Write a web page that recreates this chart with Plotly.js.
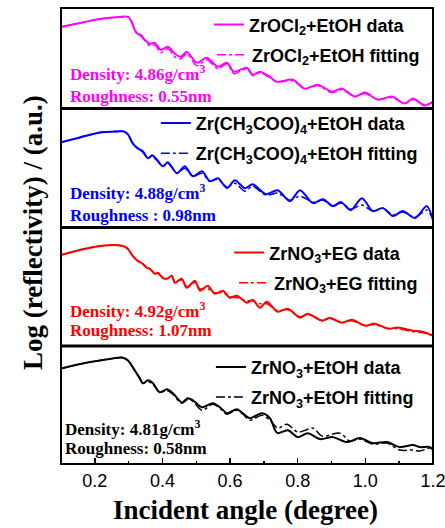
<!DOCTYPE html>
<html><head><meta charset="utf-8">
<script src="https://cdn.plot.ly/plotly-3.0.1.min.js"></script>
<style>html,body{margin:0;padding:0;background:#fff}#chart{width:445px;height:528px}</style>
</head><body><div id="chart"></div>
<script>
// Panel 1: ZrOCl2 + EtOH (magenta)
const x1 = [0.1,0.156,0.215,0.274,0.298,0.309,0.318,0.327,0.336,0.348,0.363,0.378,0.395,0.416,0.437,0.454,0.472,0.502,0.531,0.564,0.591,0.611,0.650,0.667,0.688,0.713,0.738,0.786,0.821,0.860,0.901,0.931,0.969,0.999,1.037,1.079,1.117,1.141,1.176,1.2];
const data1 = [82,86,90,92,92,87,79,75,74,69,65,66,59,62,55,52,57,46,51,42,46,37,41,34,37,33,27,29,20,24,17,20,12,16,9,12,5,10,3,7];
const fit1 = [82,86,90,92,92,87,79,74,73,68,63,64,56,60,52,50,55,43,49,40,45,35,40,33,36,32,27,28,20,23,16,19,12,15,9,11,5,9,4,6];
// Panel 2: Zr(CH3COO)4 + EtOH (blue)
const x2 = [0.1,0.156,0.215,0.268,0.286,0.298,0.312,0.327,0.342,0.357,0.369,0.383,0.401,0.416,0.443,0.466,0.490,0.517,0.540,0.564,0.591,0.614,0.644,0.667,0.706,0.741,0.777,0.807,0.845,0.875,0.904,0.928,0.957,0.990,1.022,1.052,1.082,1.111,1.147,1.182,1.2];
const data2 = [85,90,95,96,96,93,84,79,76,69,72,68,61,65,54,61,51,56,46,49,39,47,39,43,33,37,26,37,24,28,21,25,17,29,16,19,11,16,9,21,7];
const fit2 = [85,90,95,96,96,93,84,79,75,69,71,67,61,64,54,59,51,54,46,48,40,44,36,41,32,34,27,31,25,27,21,24,18,22,16,19,12,15,10,17,8];
// Panel 3: ZrNO3 + EG (red)
const x3 = [0.1,0.156,0.215,0.283,0.298,0.312,0.327,0.342,0.354,0.363,0.378,0.386,0.401,0.413,0.428,0.437,0.457,0.472,0.496,0.511,0.534,0.555,0.579,0.599,0.620,0.650,0.667,0.688,0.709,0.741,0.771,0.807,0.830,0.872,0.895,0.931,0.960,0.999,1.028,1.067,1.096,1.138,1.167,1.2];
const data3 = [91,96,100,100,97,90,85,82,78,77,72,73,68,67,70,63,67,58,65,55,60,52,55,48,50,43,46,38,44,34,37,28,32,25,28,23,26,20,22,17,18,15,14,10];
const fit3 = [91,96,100,100,97,90,85,82,78,77,72,73,68,67,69,63,66,59,63,57,57,53,53,49,48,45,45,42,42,35,36,29,31,25,27,23,25,20,21,17,17,14,13,10];
// Panel 4: ZrNO3 + EtOH (black)
const x4 = [0.1,0.164,0.215,0.253,0.280,0.298,0.318,0.333,0.342,0.357,0.372,0.392,0.413,0.431,0.457,0.475,0.490,0.517,0.549,0.570,0.591,0.620,0.638,0.659,0.694,0.718,0.733,0.741,0.771,0.801,0.830,0.866,0.904,0.946,0.984,1.022,1.064,1.102,1.141,1.161,1.191,1.2];
const data4 = [96,101,104,106,107,104,94,86,81,84,81,72,75,71,62,66,64,57,61,57,51,55,51,46,51,46,34,31,34,27,31,25,27,22,26,21,22,17,19,17,17,14];
const xf4 = [0.1,0.164,0.215,0.253,0.280,0.298,0.318,0.333,0.342,0.357,0.372,0.392,0.413,0.431,0.457,0.475,0.490,0.517,0.549,0.570,0.591,0.620,0.638,0.659,0.694,0.718,0.741,0.768,0.801,0.845,0.872,0.925,0.954,0.984,1.022,1.064,1.102,1.141,1.161,1.191,1.2];
const fit4 = [96,101,104,106,107,104,94,86,81,83,80,72,74,70,61,65,63,54,60,56,50,54,50,44,49,44,36,40,32,36,28,31,23,25,20,21,14,14,13,16,15];

const names = [
  ['ZrOCl<sub>2</sub>+EtOH data','ZrOCl<sub>2</sub>+EtOH fitting'],
  ['Zr(CH<sub>3</sub>COO)<sub>4</sub>+EtOH data','Zr(CH<sub>3</sub>COO)<sub>4</sub>+EtOH fitting'],
  ['ZrNO<sub>3</sub>+EG data','ZrNO<sub>3</sub>+EG fitting'],
  ['ZrNO<sub>3</sub>+EtOH data','ZrNO<sub>3</sub>+EtOH fitting']
];
const colors = ['#ff00ff','#0000ff','#ff0000','#000000'];
const infoText = [
  ['Density: 4.86g/cm<sup>3</sup>','Roughness: 0.55nm'],
  ['Density: 4.88g/cm<sup>3</sup>','Roughness : 0.98nm'],
  ['Density: 4.92g/cm<sup>3</sup>','Roughness: 1.07nm'],
  ['Density: 4.81g/cm<sup>3</sup>','Roughness: 0.58nm']
];
const xTickVals = [0.2,0.4,0.6,0.8,1.0,1.2];
const xTickText = ['0.2','0.4','0.6','0.8','1.0','1.2'];

const series = [
  {xd:x1, yd:data1, xf:x1, yf:fit1},
  {xd:x2, yd:data2, xf:x2, yf:fit2},
  {xd:x3, yd:data3, xf:x3, yf:fit3},
  {xd:x4, yd:data4, xf:xf4, yf:fit4}
];
const yaxNames = ['y','y2','y3','y4'];
const traces = [];
series.forEach((s,i)=>{
  traces.push({x:s.xd, y:s.yd, xaxis:'x', yaxis:yaxNames[i], mode:'lines', name:names[i][0],
    line:{color:colors[i], width:2, shape:'spline', smoothing:0.8}, legend: i===0?'legend':'legend'+(2*i+1)});
  traces.push({x:s.xf, y:s.yf, xaxis:'x', yaxis:yaxNames[i], mode:'lines', name:names[i][1],
    line:{color:colors[i], width:1.5, dash:'dashdot', shape:'spline', smoothing:0.8}, legend:'legend'+(2*i+2)});
});

const legFont = {family:'Liberation Sans, Arial, sans-serif', size:18, color:'#000', weight:'bold'};
const legPos = [[0.398,0.963],[0.406,0.897],[0.255,0.747],[0.255,0.681],[0.452,0.463],[0.465,0.397],[0.403,0.212],[0.403,0.146]];
const layout = {
  width:445, height:528, paper_bgcolor:'#fff', plot_bgcolor:'#fff',
  margin:{l:61, r:12, t:6, b:64},
  showlegend:true,
  xaxis:{domain:[0,1], range:[0.0999,1.2002], anchor:'y4', showgrid:false, zeroline:false, showline:false,
    tickvals:xTickVals, ticktext:xTickText, ticks:'inside', ticklen:6, tickwidth:1.5, tickcolor:'#000',
    ticklabelstandoff:4, ticklabeloverflow:'allow',
    tickfont:{family:'Liberation Sans, Arial, sans-serif', size:18, color:'#000'},
    minor:{tickvals:[0.1,0.3,0.5,0.7,0.9,1.1], ticks:'inside', ticklen:3, tickwidth:1.5, tickcolor:'#000', showgrid:false}},
  yaxis:{domain:[0.7795,1], range:[0,101], anchor:'x', showgrid:false, zeroline:false, showticklabels:false, showline:false},
  yaxis2:{domain:[0.5186,0.7795], range:[-0.5,119], anchor:'x', showgrid:false, zeroline:false, showticklabels:false, showline:false},
  yaxis3:{domain:[0.2587,0.5186], range:[-0.5,118.5], anchor:'x', showgrid:false, zeroline:false, showticklabels:false, showline:false},
  yaxis4:{domain:[0,0.2587], range:[0,118.5], anchor:'x', showgrid:false, zeroline:false, showticklabels:false, showline:false},
  shapes:[
    {type:'rect', xref:'paper', yref:'paper', x0:0, x1:1, y0:0, y1:1, line:{color:'#000', width:2}},
    {type:'line', xref:'paper', yref:'paper', x0:0, x1:1, y0:0.7795, y1:0.7795, line:{color:'#000', width:3}},
    {type:'line', xref:'paper', yref:'paper', x0:0, x1:1, y0:0.5186, y1:0.5186, line:{color:'#000', width:3}},
    {type:'line', xref:'paper', yref:'paper', x0:0, x1:1, y0:0.2587, y1:0.2587, line:{color:'#000', width:3}}
  ],
  annotations:[
    {text:'Incident angle (degree)', xref:'paper', yref:'paper', x:0.497, y:-0.10, xanchor:'center', yanchor:'middle', showarrow:false,
      font:{family:'Liberation Serif, Times New Roman, serif', size:27, color:'#000', weight:'bold'}},
    {text:'Log (reflectivity) / (a.u.)', xref:'paper', yref:'paper', x:-0.075, y:0.507, xanchor:'center', yanchor:'middle', textangle:-90, showarrow:false,
      font:{family:'Liberation Serif, Times New Roman, serif', size:27, color:'#000', weight:'bold'}}
  ]
};
legPos.forEach((p,k)=>{
  const key = k===0?'legend':'legend'+(k+1);
  layout[key] = {x:p[0], y:p[1], xanchor:'left', yanchor:'middle', bgcolor:'rgba(0,0,0,0)', borderwidth:0, font:legFont, xref:'paper', yref:'paper'};
});
const infoPos = [[0.019,0.858,0.806],[0.019,0.596,0.546],[0.019,0.338,0.293],[0.005,0.078,0.035]];
infoPos.forEach((p,i)=>{
  const f = {family:'Liberation Serif, Times New Roman, serif', size:17, color:colors[i], weight:'bold'};
  layout.annotations.push({text:infoText[i][0], xref:'paper', yref:'paper', x:p[0], y:p[1], xanchor:'left', yanchor:'middle', showarrow:false, font:f});
  layout.annotations.push({text:infoText[i][1], xref:'paper', yref:'paper', x:p[0], y:p[2], xanchor:'left', yanchor:'middle', showarrow:false, font:f});
});
Plotly.newPlot('chart', traces, layout, {displayModeBar:false, staticPlot:true});
</script>
</body></html>
